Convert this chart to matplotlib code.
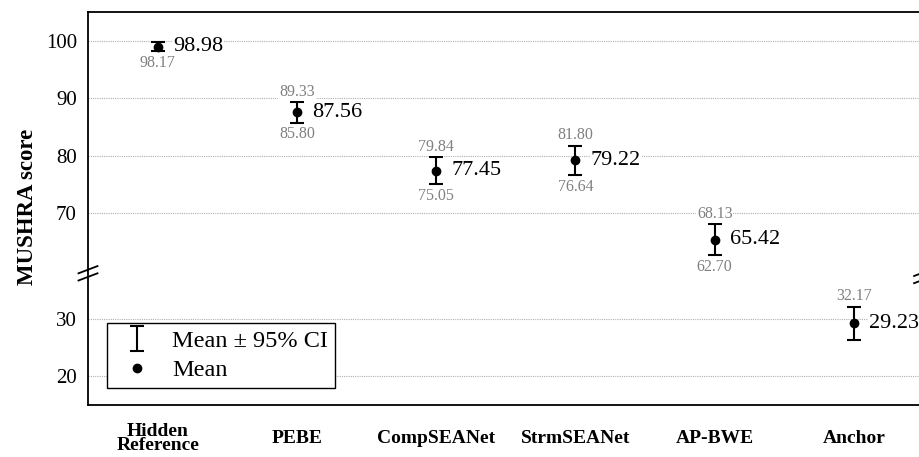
import matplotlib
matplotlib.use("Agg")
import matplotlib.pyplot as plt
from matplotlib.lines import Line2D

plt.rcParams['font.family'] = ['Liberation Serif', 'DejaVu Serif']
plt.rcParams['mathtext.fontset'] = 'stix'

categories = ["Hidden\nReference", "PEBE", "CompSEANet", "StrmSEANet", "AP-BWE", "Anchor"]
means = [98.98, 87.56, 77.45, 79.22, 65.42, 29.23]
ci_low = [98.17, 85.80, 75.05, 76.64, 62.70, 26.29]
ci_high = [99.79, 89.33, 79.84, 81.80, 68.13, 32.17]
show_low = [True, True, True, True, True, False]
show_high = [False, True, True, True, True, True]

top_ylim = (60, 105)
bot_ylim = (15, 38.4)
top_ticks = [70, 80, 90, 100]
bot_ticks = [20, 30]

W, H = 920, 457
fig = plt.figure(figsize=(W / 100, H / 100), dpi=100)

left_px, right_px = 88, 923.6
top_px, split_px, bottom_px = 12, 271, 404.5
ax_top = fig.add_axes([left_px / W, 1 - split_px / H, (right_px - left_px) / W, (split_px - top_px) / H])
ax_bot = fig.add_axes([left_px / W, 1 - bottom_px / H, (right_px - left_px) / W, (bottom_px - split_px) / H], sharex=ax_top)

x = list(range(len(categories)))
yerr = [[m - l for m, l in zip(means, ci_low)], [h - m for m, h in zip(means, ci_high)]]

eb = None
for ax in (ax_top, ax_bot):
    eb = ax.errorbar(x, means, yerr=yerr, fmt='none', ecolor='black', elinewidth=1.5,
                     capsize=5, capthick=1.5, zorder=3)
    ax.plot(x, means, 'o', color='black', markersize=6, zorder=4, linestyle='none')
    ax.grid(axis='y', linestyle=(0, (1, 1)), linewidth=0.8, color='#b0b0b0')
    ax.set_axisbelow(True)
    ax.tick_params(axis='both', length=0, labelsize=15, pad=8)
    for s in ax.spines.values():
        s.set_linewidth(1.3)

ax_top.set_ylim(*top_ylim)
ax_bot.set_ylim(*bot_ylim)
ax_top.set_yticks(top_ticks)
ax_bot.set_yticks(bot_ticks)
ax_top.set_xlim(-0.5, len(categories) - 0.5)
ax_top.spines['bottom'].set_visible(False)
ax_bot.spines['top'].set_visible(False)
ax_top.tick_params(axis='x', labelbottom=False)
ax_bot.set_xticks(x)
ax_bot.set_xticklabels(categories, fontweight='bold', fontsize=14, linespacing=0.78, va='center')
ax_bot.tick_params(axis='x', pad=24.5)

fig.text(28 / W, 1 - 207 / H, "MUSHRA score", rotation=90, fontsize=16.5, fontweight='bold',
         ha='center', va='center')

gray = '#808080'
for i, (m, lo, hi) in enumerate(zip(means, ci_low, ci_high)):
    ax = ax_top if m >= top_ylim[0] else ax_bot
    ax.annotate(f"{m:.2f}", xy=(i, m), xytext=(11, 0), textcoords='offset points',
                ha='left', va='center', fontsize=16, color='black', zorder=5,
                bbox=dict(boxstyle='square,pad=0.05', fc='white', ec='none'))
    if show_high[i]:
        ax.annotate(f"{hi:.2f}", xy=(i, hi), xytext=(0, 1.5), textcoords='offset points',
                    ha='center', va='bottom', fontsize=11.5, color=gray, zorder=5,
                    bbox=dict(boxstyle='square,pad=0.05', fc='white', ec='none'))
    if show_low[i]:
        ax.annotate(f"{lo:.2f}", xy=(i, lo), xytext=(0, -2.5), textcoords='offset points',
                    ha='center', va='top', fontsize=11.5, color=gray, zorder=5,
                    bbox=dict(boxstyle='square,pad=0.05', fc='white', ec='none'))

mean_handle = Line2D([], [], marker='o', color='black', markersize=6, linestyle='none')
leg = ax_bot.legend([eb, mean_handle], ["Mean ± 95% CI", "Mean"], loc='lower left',
                    bbox_to_anchor=(0.0227, 0.12), fontsize=17.5, frameon=True, fancybox=False,
                    edgecolor='black', framealpha=1, borderpad=0.3, labelspacing=0.3,
                    handlelength=1.9, handletextpad=0.47, borderaxespad=0)
leg.get_frame().set_linewidth(1.0)

# break marks
def brk(xc, yc):
    for dy in (-3.6, 3.6):
        yy = yc + dy
        fig.add_artist(Line2D([(xc - 9.5) / W, (xc + 9.5) / W],
                              [1 - (yy + 3.6) / H, 1 - (yy - 3.6) / H],
                              color='black', linewidth=1.3, transform=fig.transFigure,
                              clip_on=False))

brk(left_px, 273.3)
brk(right_px, 276)

fig.savefig("out.png", dpi=100)
